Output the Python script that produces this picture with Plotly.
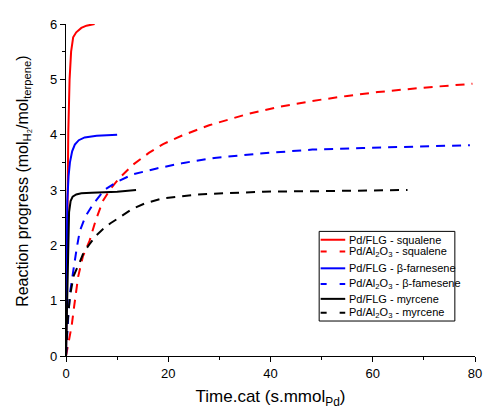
import plotly.graph_objects as go

# Pd/FLG - squalene
flg_squalene_x = [0, 0.15, 0.3, 0.45, 0.7, 1.0, 1.4, 2.0, 3.0, 4.0, 5.6]
flg_squalene_y = [0, 1.5, 3.0, 4.05, 5.0, 5.5, 5.76, 5.85, 5.93, 5.97, 6.0]

# Pd/Al2O3 - squalene
al_squalene_x = [0, 0.13, 0.5, 1.1, 1.6, 2.37, 3.3, 4.6, 5.8, 7.2, 8.7, 10.4, 13, 16.2, 19, 22.6, 28, 35.4, 41, 48.2, 55, 61, 70, 79.5]
al_squalene_y = [0, 0.07, 0.25, 0.54, 0.9, 1.43, 1.8, 2.08, 2.45, 2.8, 3.02, 3.21, 3.45, 3.67, 3.83, 3.98, 4.17, 4.37, 4.49, 4.61, 4.7, 4.77, 4.85, 4.92]

# Pd/FLG - beta-farnesene
flg_farnesene_x = [0, 0.05, 0.1, 0.25, 0.5, 0.77, 1.2, 1.73, 2.5, 3.65, 6, 10]
flg_farnesene_y = [0, 1.0, 2.0, 2.8, 3.25, 3.5, 3.7, 3.82, 3.9, 3.95, 3.98, 4.0]

# Pd/Al2O3 - beta-farnesene
al_farnesene_x = [0, 0.1, 0.25, 0.5, 0.77, 1.1, 1.54, 2.1, 2.7, 3.8, 5.26, 7.5, 10, 13, 17.75, 23, 29, 38, 48.2, 58, 68, 79]
al_farnesene_y = [0, 0.2, 0.42, 0.8, 1.13, 1.38, 1.61, 1.95, 2.26, 2.52, 2.74, 3.0, 3.15, 3.28, 3.39, 3.49, 3.58, 3.66, 3.73, 3.76, 3.79, 3.81]

# Pd/FLG - myrcene
flg_myrcene_x = [0, 0.2, 0.4, 0.6, 0.9, 1.3, 2.0, 3.0, 5.0, 8.0, 10.0, 13.7]
flg_myrcene_y = [0, 1.0, 2.0, 2.6, 2.8, 2.88, 2.92, 2.94, 2.95, 2.96, 2.97, 3.0]

# Pd/Al2O3 - myrcene
al_myrcene_x = [0, 0.3, 0.8, 1.5, 2.7, 3.5, 4.6, 5.8, 7.2, 8.7, 10.4, 13, 15.5, 19, 25.8, 32, 38.6, 50, 58, 66.8]
al_myrcene_y = [0, 0.6, 1.1, 1.45, 1.7, 1.88, 2.02, 2.17, 2.29, 2.4, 2.5, 2.66, 2.76, 2.85, 2.92, 2.95, 2.97, 2.98, 2.99, 3.0]

x_ticks = [0, 20, 40, 60, 80]
y_ticks = [0, 1, 2, 3, 4, 5, 6]

series_names = [
    "Pd/FLG - squalene",
    "Pd/Al<sub>2</sub>O<sub>3</sub> - squalene",
    "Pd/FLG - β-farnesene",
    "Pd/Al<sub>2</sub>O<sub>3</sub> - β-famesene",
    "Pd/FLG - myrcene",
    "Pd/Al<sub>2</sub>O<sub>3</sub> - myrcene",
]
series_x = [flg_squalene_x, al_squalene_x, flg_farnesene_x, al_farnesene_x, flg_myrcene_x, al_myrcene_x]
series_y = [flg_squalene_y, al_squalene_y, flg_farnesene_y, al_farnesene_y, flg_myrcene_y, al_myrcene_y]
series_colors = ["#ff0000", "#ff0000", "#0000ff", "#0000ff", "#000000", "#000000"]
series_dashed = [False, True, False, True, False, True]

DASH = "9px,7px"

fig = go.Figure()
for name, xs, ys, color, dashed in zip(series_names, series_x, series_y, series_colors, series_dashed):
    fig.add_trace(go.Scatter(x=xs, y=ys, mode="lines", name=name, showlegend=False,
                             line=dict(color=color, width=2, dash=DASH if dashed else "solid")))

# ---- custom legend (compact rows like the reference) ----
W, H = 483, 404
ML, MR, MT, MB = 58, 9, 12, 55
PW, PH = W - ML - MR, H - MT - MB
OFF = 8  # page body offset


def px_x(p):
    return (p - OFF - ML) / PW


def px_y(p):
    return 1 - (p - OFF - MT) / PH


shapes = [dict(type="rect", xref="paper", yref="paper",
               x0=px_x(323.5), x1=px_x(461.5), y0=px_y(321.5), y1=px_y(230.5),
               line=dict(color="black", width=1), fillcolor="white", layer="above")]
annotations = []
row_y = [239, 251, 268, 284, 299, 313]
for name, color, dashed, ry in zip(series_names, series_colors, series_dashed, row_y):
    shapes.append(dict(type="line", xref="paper", yref="paper",
                       x0=px_x(325), x1=px_x(350), y0=px_y(ry), y1=px_y(ry),
                       line=dict(color=color, width=2, dash="6px,13px" if dashed else "solid"),
                       layer="above"))
    annotations.append(dict(text=name, xref="paper", yref="paper", x=px_x(352), y=px_y(ry),
                            xanchor="left", yanchor="middle", showarrow=False,
                            font=dict(size=11, color="black")))

# y-axis title as annotation (placed like the reference)
annotations.append(dict(text="Reaction progress (mol<sub>H₂</sub>/mol<sub>terpene</sub>)",
                        xref="paper", yref="paper", x=px_x(22.5), y=px_y(180),
                        xanchor="center", yanchor="middle", textangle=-90, showarrow=False,
                        font=dict(size=16, color="black")))

font_family = "Liberation Sans, Arial, sans-serif"
fig.update_layout(
    width=W, height=H,
    margin=dict(l=ML, r=MR, t=MT, b=MB),
    plot_bgcolor="white", paper_bgcolor="white",
    font=dict(family=font_family, size=13, color="black"),
    showlegend=False,
    shapes=shapes,
    annotations=annotations,
    xaxis=dict(range=[0, 80], tickvals=x_ticks, ticks="outside", ticklen=5,
               tickwidth=1, tickcolor="black", showline=True, linecolor="black",
               linewidth=1.3, showgrid=False, zeroline=False,
               minor=dict(dtick=10, ticks="outside", ticklen=3, tickcolor="black"),
               title=dict(text="Time.cat (s.mmol<sub>Pd</sub>)", font=dict(size=17), standoff=10)),
    yaxis=dict(range=[0, 6], tickvals=y_ticks, ticks="outside", ticklen=5,
               tickwidth=1, tickcolor="black", showline=True, linecolor="black",
               linewidth=1.3, showgrid=False, zeroline=False,
               minor=dict(dtick=0.5, ticks="outside", ticklen=3, tickcolor="black")),
)

fig.write_html("out.html")
